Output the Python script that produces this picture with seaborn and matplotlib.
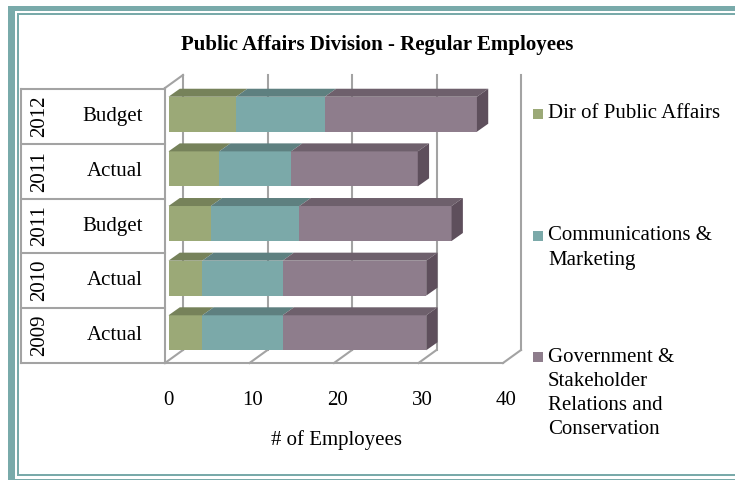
import numpy as np
import pandas as pd
import matplotlib
matplotlib.use("Agg")
import matplotlib.pyplot as plt
import matplotlib.transforms as mtransforms
from matplotlib.patches import Polygon, Rectangle
from matplotlib.lines import Line2D
import seaborn as sns

# ---------------- data ----------------
years = ["2012", "2011", "2011", "2010", "2009"]
kinds = ["Budget", "Actual", "Budget", "Actual", "Actual"]
dir_public_affairs = [8, 6, 5, 4, 4]
communications_marketing = [10.5, 8.5, 10.5, 9.5, 9.5]
government_stakeholder = [18, 15, 18, 17, 17]
series_labels = [
    ["Dir of Public Affairs"],
    ["Communications &", "Marketing"],
    ["Government &", "Stakeholder", "Relations and", "Conservation"],
]
x_ticks = [0, 10, 20, 30, 40]
title_text = "Public Affairs Division - Regular Employees"
x_label = "# of Employees"

# ---------------- style ----------------
front_colors = ["#9BA977", "#7BA9A9", "#8E7D8C"]
top_colors = ["#76825A", "#5E8080", "#6E606C"]
side_color = "#5E4F5C"
line_gray = "#A3A3A3"
teal = "#79AAAA"

W, H = 735, 480
plt.rcParams['font.family'] = ['Liberation Serif', 'DejaVu Serif']
fig = plt.figure(figsize=(W / 100, H / 100), dpi=100)
fig.patch.set_facecolor("white")

ax_left, ax_right = 168.5, 506.5
ax_top, ax_bot = 86.9, 360.1
ax = fig.add_axes([ax_left / W, (H - ax_bot) / H,
                   (ax_right - ax_left) / W, (ax_bot - ax_top) / H])
ax.set_facecolor("none")

cats = [f"{y} {k}" for y, k in zip(years, kinds)]
df = pd.DataFrame({"cat": cats, "d": dir_public_affairs,
                   "c": communications_marketing, "g": government_stakeholder})
df["c1"] = df["d"]
df["c2"] = df["d"] + df["c"]
df["c3"] = df["c2"] + df["g"]

bar_h = 0.64
for col, color in zip(["c3", "c2", "c1"], front_colors[::-1]):
    sns.barplot(data=df, x=col, y="cat", orient="h", color=color, saturation=1,
                width=bar_h, linewidth=0, errorbar=None, ax=ax, zorder=5)

ax.set_xlim(0, 40)
ax.set_ylim(len(cats) - 0.5, -0.5)
ax.set_autoscale_on(False)
ax.set_xticks(x_ticks)
ax.set_xticklabels([str(t) for t in x_ticks])
ax.set_yticks([])
ax.set_ylabel("")
for s in ax.spines.values():
    s.set_visible(False)
ax.tick_params(axis="x", length=0, pad=22, labelsize=15)
ax.set_xlabel(x_label, fontsize=15)
ax.xaxis.label.set_va("center")
ax.xaxis.set_label_coords(0.4956, -0.2925)

T = ax.transData
inv = T.inverted()


def d2p(x, y):
    """data -> pixel (top-based)"""
    X, Y = T.transform((x, y))
    return X, H - Y


def p2d(px, py):
    return inv.transform((px, H - py))


def pline(xs, ys, **kw):
    pts = np.array([p2d(x, y) for x, y in zip(xs, ys)])
    ax.add_line(Line2D(pts[:, 0], pts[:, 1], clip_on=False, **kw))


def ppoly(pts, **kw):
    d = np.array([p2d(x, y) for x, y in pts])
    ax.add_patch(Polygon(d, closed=True, clip_on=False, **kw))


# ---------------- 3-D walls & grid ----------------
wall_dx, wall_dy = 18, 13
floor_front_y = 363
wall_top_y = 75
lw_grid = 1.5
x0_front = d2p(0, 0)[0] - 3.5
for v in x_ticks:
    xf = d2p(v, 0)[0] - 3.5
    # back-wall gridline
    pline([xf + wall_dx, xf + wall_dx], [wall_top_y, floor_front_y - wall_dy],
          color=line_gray, lw=lw_grid, zorder=1)
    # floor diagonal
    pline([xf, xf + wall_dx], [floor_front_y, floor_front_y - wall_dy],
          color=line_gray, lw=lw_grid, zorder=1)
x40_front = d2p(x_ticks[-1], 0)[0] - 3.5
pline([x0_front, x40_front], [floor_front_y, floor_front_y], color=line_gray, lw=lw_grid, zorder=1)
# left wall
pline([x0_front, x0_front], [floor_front_y, wall_top_y + wall_dy], color=line_gray, lw=lw_grid, zorder=1)
pline([x0_front, x0_front + wall_dx], [wall_top_y + wall_dy, wall_top_y], color=line_gray, lw=lw_grid, zorder=1)

# ---------------- 3-D bar faces ----------------
bdx, bdy = 11.3, 8
bounds_all = df[["c1", "c2", "c3"]].to_numpy()
for i in range(len(cats)):
    bounds = [0] + list(bounds_all[i])
    ytop = i - bar_h / 2
    ybot = i + bar_h / 2
    for j in range(3):
        X0, Yt = d2p(bounds[j], ytop)
        X1, _ = d2p(bounds[j + 1], ytop)
        ppoly([(X0, Yt), (X1, Yt), (X1 + bdx, Yt - bdy), (X0 + bdx, Yt - bdy)],
              facecolor=top_colors[j], edgecolor="none", zorder=6)
    X3, Yt = d2p(bounds[-1], ytop)
    _, Yb = d2p(bounds[-1], ybot)
    ppoly([(X3, Yb), (X3, Yt), (X3 + bdx, Yt - bdy), (X3 + bdx, Yb - bdy)],
          facecolor=side_color, edgecolor="none", zorder=6)


# ---------------- figure-level decorations ----------------
def fig_rect(x, y, w, h, color, z=3):
    fig.add_artist(Rectangle((x / W, 1 - (y + h) / H), w / W, h / H,
                             transform=fig.transFigure, facecolor=color,
                             edgecolor="none", zorder=z))


def fig_line(xs, ys, color=line_gray, lw=lw_grid):
    fig.add_artist(Line2D([x / W for x in xs], [1 - y / H for y in ys],
                          transform=fig.transFigure, color=color, lw=lw, zorder=3))


# frame
fig_rect(8, 6, 7, H - 6, teal)
fig_rect(8, 6, W - 8, 5, teal)
fig_rect(8, 479, W - 8, 2, teal)
fig_rect(17, 13, 2, 463, teal)
fig_rect(17, 13, W - 17, 2, teal)
fig_rect(17, 474, W - 17, 2, teal)

# table of category labels
table_left = 20.5
row_off = 2.5
for k in range(len(cats) + 1):
    _, yb = d2p(0, k - 0.5)
    fig_line([table_left, x0_front], [yb + row_off, yb + row_off])
_, ytb = d2p(0, -0.5)
fig_line([table_left, table_left], [ytb + row_off, floor_front_y])
for i, (yr, kd) in enumerate(zip(years, kinds)):
    _, yc = d2p(0, i)
    yc += row_off
    fig.text(40 / W, 1 - yc / H, yr, rotation=90, ha="center", va="center", fontsize=15)
    fig.text(143 / W, 1 - yc / H, kd, ha="right", va="center", fontsize=15)

# title
fig.text(377 / W, 1 - 45 / H, title_text, ha="center", va="center",
         fontsize=15, fontweight="bold")

# legend
legend_first_y = [114, 236, 357]
line_step = 24.3
for color, lines, y0 in zip(front_colors, series_labels, legend_first_y):
    fig_rect(533, y0 - 5, 10, 10, color, z=4)
    for n, txt in enumerate(lines):
        fig.text(548 / W, 1 - (y0 + n * line_step) / H, txt, ha="left",
                 va="center", fontsize=15)

fig.savefig("out.png", dpi=100, facecolor="white")
